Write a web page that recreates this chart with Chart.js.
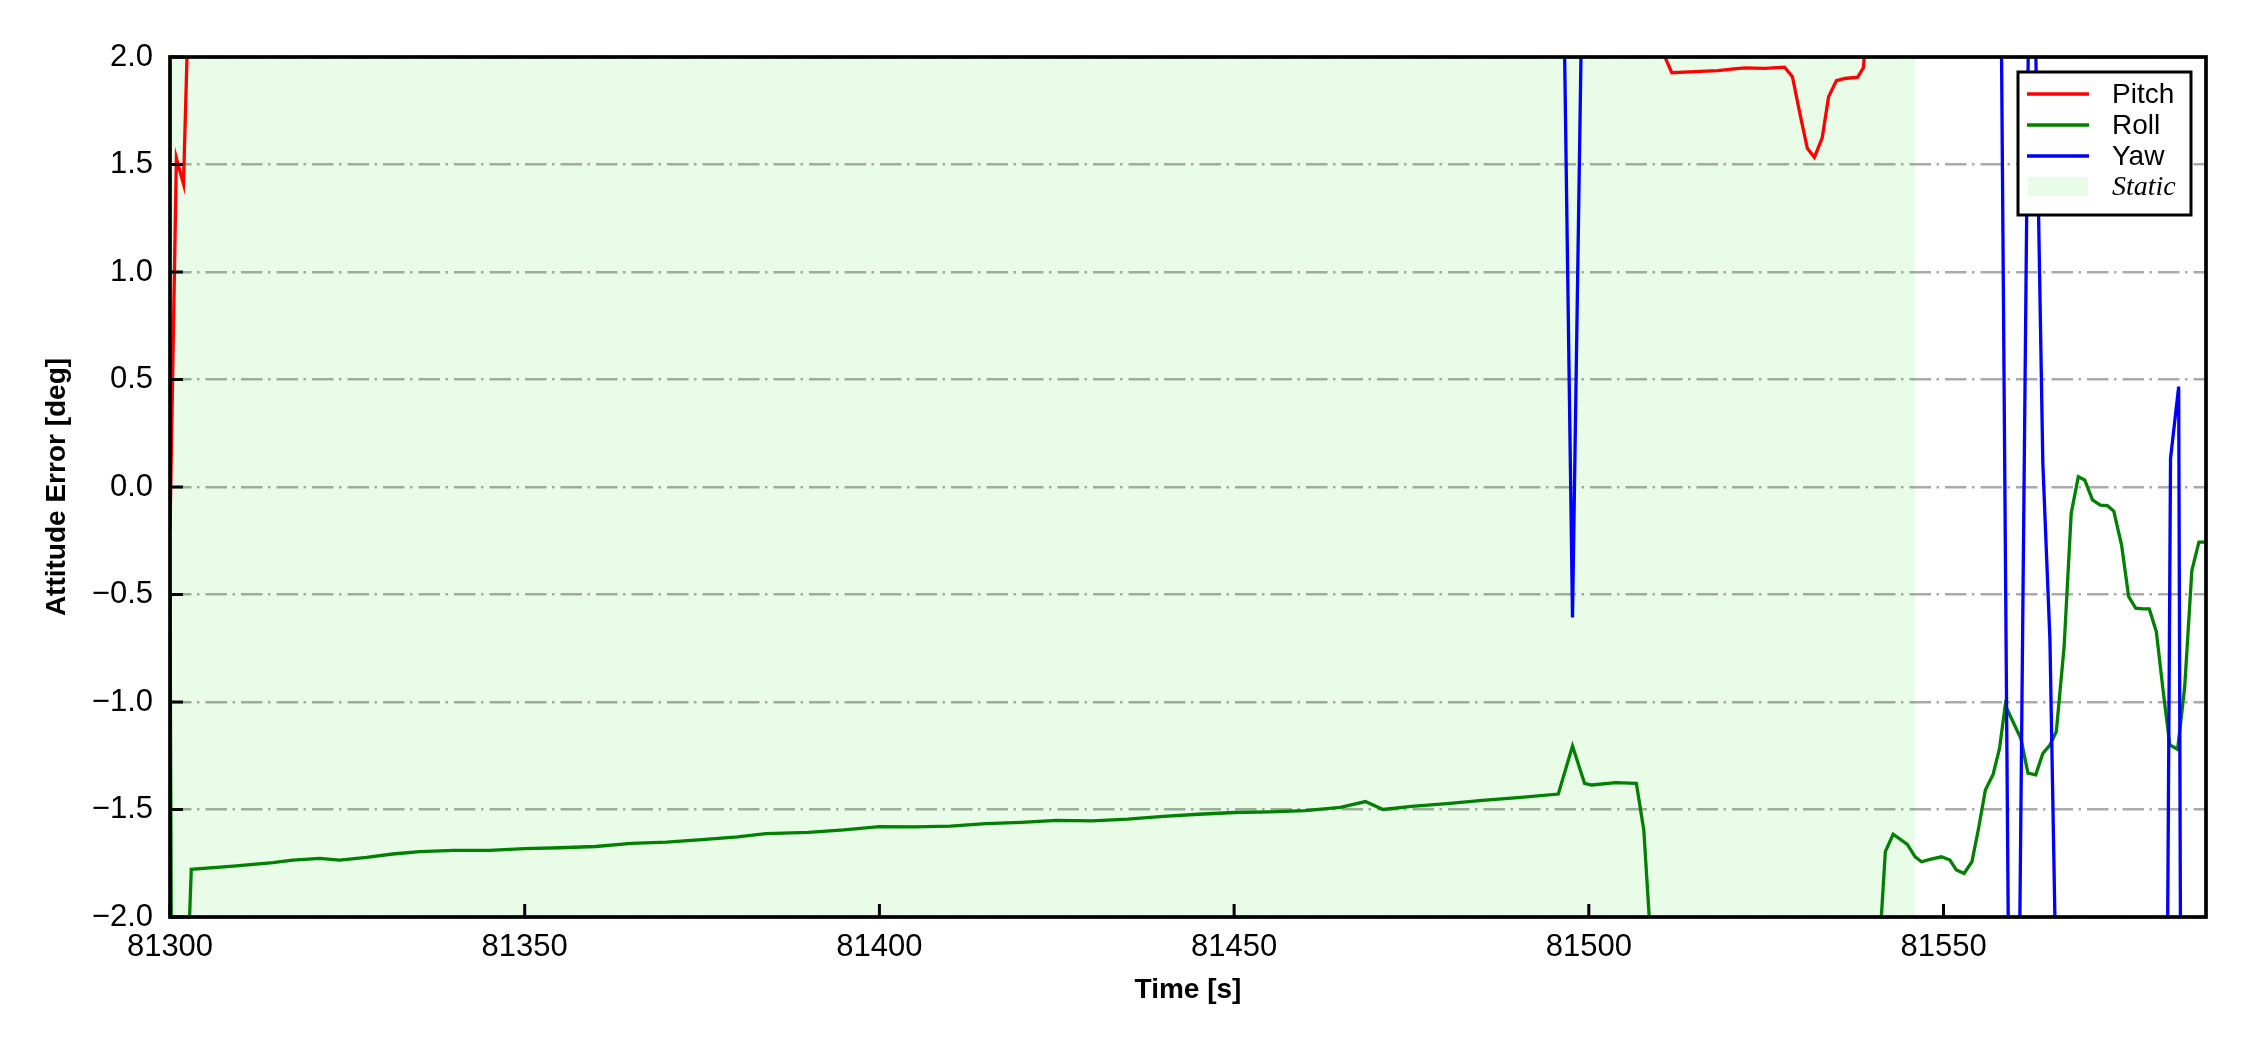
<!DOCTYPE html>
<html>
<head>
<meta charset="utf-8">
<script src="https://cdn.jsdelivr.net/npm/chart.js@4.4.1/dist/chart.umd.min.js"></script>
<style>
  html, body { margin: 0; padding: 0; background: #fff; }
  #wrap { width: 2250px; height: 1050px; position: relative; }
</style>
</head>
<body>
<div id="wrap"><canvas id="chart"></canvas></div>
<script>
// tick positions
const xTicks = [81300, 81350, 81400, 81450, 81500, 81550];
const yTicks = [-2.0, -1.5, -1.0, -0.5, 0.0, 0.5, 1.0, 1.5, 2.0];

// static interval (shaded)
const staticT = [81300, 81546];
const staticV = [2, 2];

// pitch error [deg] - mostly above the visible range
const pitchT = [81300, 81300.9, 81301.9, 81302.9, 81400, 81510.2, 81511.7, 81514.9, 81518.2, 81520.1,
  81522.0, 81524.8, 81527.6, 81528.7, 81529.8, 81530.8, 81531.8, 81532.9, 81533.8, 81534.9,
  81536.1, 81537.9, 81538.7, 81539.6, 81587.2];
const pitchV = [-0.2, 1.53, 1.41, 2.6, 3.0, 2.04, 1.927, 1.932, 1.937, 1.944,
  1.949, 1.947, 1.953, 1.908, 1.73, 1.575, 1.533, 1.624, 1.815, 1.89,
  1.9, 1.906, 1.95, 2.3, 3.0];

// roll error [deg]
const rollT = [81300, 81300.9, 81301.95, 81303.0, 81308.9, 81314.5, 81317.3, 81321.1, 81323.9, 81327.7,
  81331.4, 81335.2, 81340, 81345, 81350, 81355, 81360, 81365, 81370, 81375,
  81380, 81384, 81390, 81395, 81400, 81405, 81410, 81415, 81420, 81425,
  81430, 81435, 81440, 81445, 81450, 81455, 81460, 81465, 81468.5, 81471,
  81475, 81480, 81485, 81490, 81495.7, 81497.7, 81499.4, 81500.4, 81503.8, 81506.7,
  81507.75, 81508.8, 81525, 81540.77, 81541.8, 81542.9, 81544.9, 81546.0, 81546.9, 81548.1,
  81549.7, 81550.9, 81551.8, 81552.9, 81554.0, 81554.9, 81555.9, 81557.0, 81557.9, 81558.7,
  81560.0, 81560.9, 81561.9, 81563.0, 81564.0, 81565.0, 81565.9, 81567.0, 81568.0, 81569.0,
  81569.9, 81571.0, 81572.1, 81573.1, 81574.0, 81575.1, 81576.1, 81577.1, 81578.1, 81579.0,
  81580.0, 81581.0, 81581.9, 81583.0, 81584.0, 81585.0, 81586.0, 81587.2];
const rollV = [-0.5, -8, -2.74, -1.778, -1.763, -1.747, -1.735, -1.727, -1.735, -1.723,
  -1.707, -1.696, -1.69, -1.69, -1.682, -1.678, -1.672, -1.658, -1.652, -1.64,
  -1.627, -1.612, -1.606, -1.595, -1.58, -1.581, -1.577, -1.566, -1.56, -1.551,
  -1.553, -1.545, -1.532, -1.522, -1.514, -1.511, -1.505, -1.49, -1.463, -1.5,
  -1.485, -1.473, -1.458, -1.445, -1.428, -1.205, -1.378, -1.386, -1.375, -1.378,
  -1.595, -2.15, -4, -2.25, -1.696, -1.615, -1.662, -1.72, -1.743, -1.732,
  -1.72, -1.735, -1.781, -1.797, -1.743, -1.595, -1.409, -1.336, -1.215, -1.014,
  -1.107, -1.169, -1.331, -1.339, -1.239, -1.2, -1.138, -0.743, -0.122, 0.048,
  0.033, -0.06, -0.084, -0.087, -0.112, -0.27, -0.51, -0.564, -0.567, -0.567,
  -0.673, -0.96, -1.2, -1.22, -0.929, -0.39, -0.256, -0.256];

// yaw error [deg]
const yawT = [81300, 81400, 81496.0, 81497.7, 81499.4, 81530, 81557.9, 81559.4, 81560.5, 81562.2,
  81562.5, 81564.0, 81565.0, 81566.0, 81574, 81581.3, 81582.0, 81583.15, 81583.6, 81587.2];
const yawV = [2.6, 3.2, 3.4, -0.607, 3.1, 3.5, 3.2, -3.2, -2.9, 2.9,
  3.0, 0.11, -0.71, -2.55, -3.5, -3.6, 0.133, 0.467, -4.1, -4.0];

const pts = (t, v) => t.map((x, i) => ({ x: x, y: v[i] }));

const sans = '"Liberation Sans", Arial, sans-serif';

// inward ticks + full black frame
const frameAndTicks = {
  id: 'frameAndTicks',
  afterDatasetsDraw(chart) {
    const { ctx, chartArea: a, scales: { x, y } } = chart;
    ctx.save();
    ctx.strokeStyle = '#000';
    ctx.lineWidth = 3;
    ctx.beginPath();
    xTicks.forEach(v => {
      const px = x.getPixelForValue(v);
      ctx.moveTo(px, a.bottom);
      ctx.lineTo(px, a.bottom - 13);
    });
    yTicks.forEach(v => {
      const py = y.getPixelForValue(v);
      ctx.moveTo(a.left, py);
      ctx.lineTo(a.left + 13, py);
    });
    ctx.stroke();
    ctx.lineWidth = 3.7;
    ctx.strokeRect(a.left, a.top, a.right - a.left, a.bottom - a.top);
    ctx.restore();
  }
};

// matplotlib-like legend box in the upper right
const boxLegend = {
  id: 'boxLegend',
  afterDraw(chart) {
    const { ctx, chartArea: a } = chart;
    const w = 173, h = 143;
    const bx = a.right - 15 - w, by = a.top + 15;
    ctx.save();
    ctx.fillStyle = '#fff';
    ctx.fillRect(bx, by, w, h);
    ctx.lineWidth = 3;
    ctx.strokeStyle = '#000';
    ctx.strokeRect(bx, by, w, h);
    const items = ['Pitch', 'Roll', 'Yaw', 'Static'].map(l => chart.data.datasets.find(d => d.label === l));
    items.forEach((ds, i) => {
      const cy = by + 22 + i * 31;
      if (ds.fill) {
        ctx.fillStyle = ds.backgroundColor;
        ctx.fillRect(bx + 10, cy - 10, 60, 19);
        ctx.font = 'italic 28px "Liberation Serif", "Times New Roman", serif';
      } else {
        ctx.strokeStyle = ds.borderColor;
        ctx.lineWidth = 3.3;
        ctx.beginPath();
        ctx.moveTo(bx + 9, cy);
        ctx.lineTo(bx + 71, cy);
        ctx.stroke();
        ctx.font = '28px ' + sans;
      }
      ctx.fillStyle = '#000';
      ctx.textBaseline = 'middle';
      ctx.textAlign = 'left';
      ctx.fillText(ds.label, bx + 94, cy + 1);
    });
    ctx.restore();
  }
};

new Chart(document.getElementById('chart'), {
  type: 'line',
  data: {
    datasets: [
      { label: 'Yaw', data: pts(yawT, yawV), borderColor: '#0000ff', borderWidth: 3.3, order: 0 },
      { label: 'Roll', data: pts(rollT, rollV), borderColor: '#008000', borderWidth: 3.3, order: 1 },
      { label: 'Pitch', data: pts(pitchT, pitchV), borderColor: '#ff0000', borderWidth: 3.3, order: 2 },
      { label: 'Static', data: pts(staticT, staticV), borderWidth: 0, borderColor: 'rgba(0,0,0,0)',
        backgroundColor: 'rgba(0,220,0,0.09)', fill: 'start', order: 3 }
    ]
  },
  options: {
    responsive: true,
    maintainAspectRatio: false,
    animation: false,
    devicePixelRatio: 1,
    layout: { padding: { top: 57, right: 44, left: 0, bottom: 0 } },
    elements: { point: { radius: 0, hoverRadius: 0 }, line: { tension: 0 } },
    datasets: { line: { clip: 0 } },
    plugins: { legend: { display: false }, tooltip: { enabled: false } },
    scales: {
      x: {
        type: 'linear',
        min: 81300,
        max: 81587,
        afterBuildTicks: s => { s.ticks = xTicks.map(v => ({ value: v })); },
        afterFit: s => { s.height = 133; },
        grid: { display: false, drawTicks: false },
        border: { display: false },
        ticks: { color: '#000', font: { family: sans, size: 31 }, padding: 12, maxRotation: 0, autoSkip: false,
          callback: v => String(v) },
        title: { display: true, text: 'Time [s]', color: '#000',
          font: { family: sans, size: 28, weight: 'bold' }, padding: { top: 0, bottom: 43 } }
      },
      y: {
        min: -2,
        max: 2,
        afterBuildTicks: s => { s.ticks = yTicks.map(v => ({ value: v })); },
        afterFit: s => { s.width = 170; },
        grid: { color: '#aaaaaa', lineWidth: 2.5, drawTicks: false },
        border: { display: false, dash: [21.5, 5.5, 2.5, 6] },
        ticks: { color: '#000', font: { family: sans, size: 31 }, padding: 17,
          callback: v => v.toFixed(1).replace('-', '\u2212') },
        title: { display: true, text: 'Attitude Error [deg]', color: '#000',
          font: { family: sans, size: 28, weight: 'bold' }, padding: { top: 40, bottom: 0 } }
      }
    }
  },
  plugins: [frameAndTicks, boxLegend]
});
</script>
</body>
</html>
